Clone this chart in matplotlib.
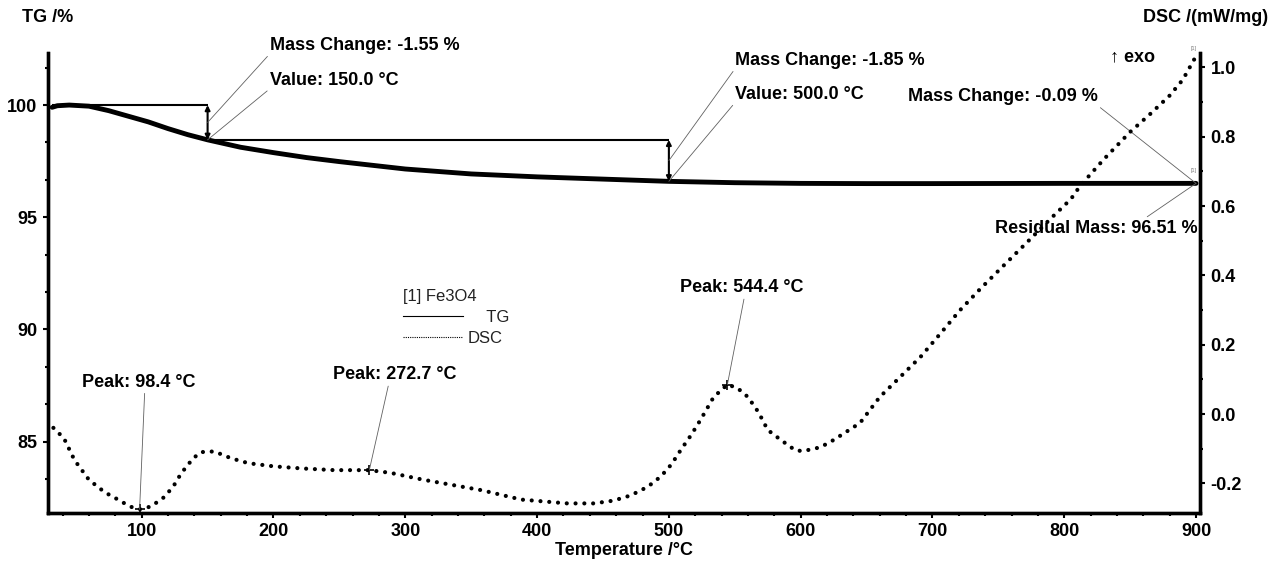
import matplotlib
matplotlib.use('Agg')
import matplotlib.pyplot as plt
from matplotlib.lines import Line2D
from matplotlib.ticker import MultipleLocator

plt.rcParams['font.family'] = ['Liberation Sans', 'DejaVu Sans']

# TG curve (mass %)
tg_temp = [32, 36, 45, 60, 75, 90, 105, 120, 135, 150, 175, 200, 225, 250,
           300, 350, 400, 450, 500, 550, 600, 650, 700, 800, 900]
tg_mass = [99.9, 99.97, 100.0, 99.95, 99.75, 99.5, 99.25, 98.95, 98.68,
           98.45, 98.12, 97.88, 97.66, 97.48, 97.15, 96.93, 96.8, 96.7,
           96.6, 96.54, 96.51, 96.5, 96.5, 96.51, 96.51]

# DSC curve (mW/mg)
dsc_temp = [33, 41, 49, 60, 72, 83, 91, 98.4, 107, 117, 124, 130, 139, 145,
            155, 168, 181, 200, 221, 246, 272.7, 289, 314, 336, 358, 388,
            423, 443, 458, 471, 484, 494, 502, 509, 517, 524, 534, 544.4,
            552, 560, 568, 575, 585, 596, 602, 615, 625, 645, 660, 675, 691,
            706, 721, 736, 751, 774, 790, 805, 812, 830, 850, 865, 880, 890,
            899]
dsc_val = [-0.04, -0.07, -0.133, -0.19, -0.226, -0.249, -0.267, -0.275,
           -0.267, -0.24, -0.209, -0.171, -0.128, -0.11, -0.108, -0.128,
           -0.142, -0.151, -0.157, -0.162, -0.162, -0.17, -0.19, -0.205,
           -0.22, -0.247, -0.258, -0.258, -0.25, -0.235, -0.21, -0.18,
           -0.145, -0.104, -0.06, -0.017, 0.049, 0.085, 0.075, 0.049,
           0.005, -0.046, -0.075, -0.105, -0.107, -0.096, -0.075, -0.026,
           0.049, 0.105, 0.165, 0.232, 0.30, 0.36, 0.417, 0.504, 0.565,
           0.62, 0.658, 0.735, 0.814, 0.865, 0.919, 0.965, 1.026]

step_temp = [150.0, 500.0]
step_from = [100.0, 98.45]
step_to = [98.45, 96.60]
step_change = [-1.55, -1.85]
end_temp = 900.0
end_change = -0.09
residual = 96.51

peak_temp = [98.4, 272.7, 544.4]
peak_dsc = [-0.275, -0.162, 0.085]

BOLD = dict(fontsize=13, fontweight='bold')
LEAD = dict(arrowstyle='-', color='#606060', lw=0.6, shrinkA=0, shrinkB=0)


def main():
    fig = plt.figure(figsize=(12.85, 5.62), dpi=100)
    ax = fig.add_axes([48 / 1285, 49 / 562, 1152 / 1285, 460 / 562])
    ax2 = ax.twinx()

    ax.plot(tg_temp, tg_mass, color='black', lw=3.5, solid_capstyle='round')
    ax2.plot(dsc_temp, dsc_val, color='black', lw=3.0,
             linestyle=(0, (0.01, 2.1)), dash_capstyle='round')

    ax.set_xlim(28.9, 903)
    ax.set_ylim(81.82, 102.32)
    ax2.set_ylim(-0.2857, 1.0418)

    # mass steps
    ax.hlines(step_from[0], tg_temp[0], step_temp[0], color='black', lw=1.5)
    ax.hlines(step_from[1], step_temp[0], step_temp[1], color='black', lw=1.5)
    texts = [((197.3, 102.67), (197.3, 101.11)),
             ((550.2, 102.0), (550.2, 100.49))]
    for t, a, b, ch, (p1, p2) in zip(step_temp, step_from, step_to,
                                     step_change, texts):
        ax.annotate('', xy=(t, b), xytext=(t, a),
                    arrowprops=dict(arrowstyle='<|-|>', color='black', lw=1.5,
                                    mutation_scale=7, shrinkA=0, shrinkB=0))
        ax.annotate('Mass Change: %.2f %%' % ch, xy=(t, (a + b) / 2),
                    xytext=p1, ha='left', va='center', annotation_clip=False,
                    arrowprops=dict(LEAD, relpos=(0, 0)), **BOLD)
        ax.annotate('Value: %.1f \u00b0C' % t, xy=(t, b), xytext=p2,
                    ha='left', va='center', annotation_clip=False,
                    arrowprops=dict(LEAD, relpos=(0, 0)), **BOLD)

    ax.annotate('Mass Change: %.2f %%' % end_change, xy=(end_temp, residual),
                xytext=(825.3, 100.36), ha='right', va='center',
                arrowprops=dict(LEAD, relpos=(1, 0)), **BOLD)
    ax.annotate('Residual Mass: %.2f %%' % residual, xy=(end_temp, residual),
                xytext=(901.4, 94.52), ha='right', va='center',
                arrowprops=dict(LEAD, relpos=(0.73, 1)), **BOLD)
    ax.text(898, 97.0, '[1]', fontsize=4, color='grey', ha='center')
    ax2.text(898, 1.05, '[1]', fontsize=4, color='grey', ha='center')

    # DSC peaks
    peak_pos = [(98.0, 0.092), (292.2, 0.113), (555.5, 0.364)]
    peak_rel = [(0.55, 0), (0.45, 0), (0.52, 0)]
    for t, v, pos, rel in zip(peak_temp, peak_dsc, peak_pos, peak_rel):
        ax2.plot([t], [v], marker='+', color='black', ms=7, mew=1.2)
        ax2.annotate('Peak: %.1f \u00b0C' % t, xy=(t, v), xytext=pos,
                     ha='center', va='center',
                     arrowprops=dict(LEAD, relpos=rel), **BOLD)

    # axes styling
    ax.spines['top'].set_visible(False)
    ax2.spines['top'].set_visible(False)
    for a in (ax, ax2):
        for s in ('left', 'right', 'bottom'):
            a.spines[s].set_linewidth(2.4)
    ax.xaxis.set_major_locator(MultipleLocator(100))
    ax.xaxis.set_minor_locator(MultipleLocator(20))
    ax.yaxis.set_major_locator(MultipleLocator(5))
    ax.yaxis.set_minor_locator(MultipleLocator(5 / 3))
    ax2.yaxis.set_major_locator(MultipleLocator(0.2))
    ax2.yaxis.set_minor_locator(MultipleLocator(0.1))
    ax2.yaxis.set_major_formatter(lambda v, p: '%.1f' % (0 if abs(v) < 1e-9 else v))
    for a in (ax, ax2):
        a.tick_params(which='major', direction='out', length=3.5, width=1.5,
                      labelsize=13, pad=4)
        a.tick_params(which='minor', direction='out', length=2, width=1.5)
        for lab in a.get_xticklabels() + a.get_yticklabels():
            lab.set_fontweight('bold')
    ax.set_xlabel('Temperature /\u00b0C', **BOLD)
    ax.xaxis.set_label_coords(0.5, -0.063)

    fig.text(22 / 1285, 1 - 18 / 562, 'TG /%', ha='left', va='center', **BOLD)
    fig.text(1268 / 1285, 1 - 18 / 562, 'DSC /(mW/mg)', ha='right',
             va='center', **BOLD)
    fig.text(1110 / 1285, 1 - 57 / 562, '\u2191 exo', ha='left', va='center',
             **BOLD)

    handles = [Line2D([], [], color='black', lw=0.8),
               Line2D([], [], color='black', lw=0.8, ls=(0, (1, 1)))]
    leg = ax.legend(handles, ['    TG', 'DSC'], title='[1] Fe3O4',
                    loc='upper left', bbox_to_anchor=(0.308, 0.486),
                    frameon=False, fontsize=12, title_fontsize=12,
                    handlelength=3.6, handletextpad=0.3, labelspacing=0.35,
                    borderpad=0, borderaxespad=0, alignment='left')
    for t in leg.get_texts() + [leg.get_title()]:
        t.set_color('#222222')

    fig.savefig('out.png', dpi=100)


if __name__ == '__main__':
    main()
